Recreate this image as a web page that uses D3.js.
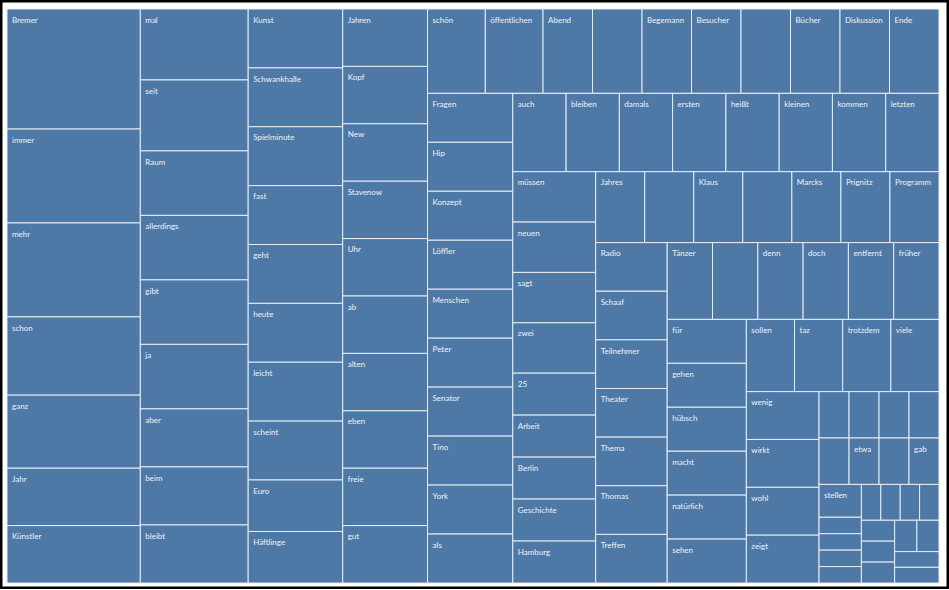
<!DOCTYPE html>
<html lang="de">
<head>
<meta charset="UTF-8">
<title>Wörter Treemap</title>
<style>
  body { margin: 0; background: #fff; }
  svg { display: block; }
  .cell rect { fill: #4e79a7; stroke: #e6ecf3; stroke-width: 1; }
  .cell text { fill: #eef2f7; font-family: Lato, "Open Sans", sans-serif; font-size: 8px; }
</style>
</head>
<body>
<svg id="chart" width="949" height="590"></svg>
<script src="https://cdn.jsdelivr.net/npm/d3@7"></script>
<script>
// word counts, one array per frequency
var levels = [23, 18, 15, 14, 11, 10, 9, 8, 7, 6, 5, 2, 1];

var words23 = ["Bremer"];
var words18 = ["immer", "mehr"];
var words15 = ["schon"];
var words14 = ["ganz"];
var words11 = ["Jahr", "Künstler", "mal", "seit"];
var words10 = ["Raum", "allerdings", "gibt", "ja"];
var words9 = ["aber", "beim", "bleibt"];
var words8 = ["Kunst", "Schwankhalle", "Spielminute", "fast", "geht", "heute", "leicht", "scheint"];
var words7 = ["Euro", "Häftlinge", "Jahren", "Kopf", "New", "Stavenow", "Uhr", "ab", "alten",
              "eben", "freie", "gut", "schön", "öffentlichen"];
var words6 = ["Abend", "Ausstellungsraum", "Begemann", "Besucher", "Bremerhavener", "Bücher",
              "Diskussion", "Ende", "Fragen", "Hip", "Konzept", "Löffler", "Menschen", "Peter",
              "Senator", "Tino", "York", "als", "auch", "bleiben", "damals", "ersten", "heißt",
              "kleinen", "kommen", "letzten", "müssen", "neuen", "sagt", "zwei"];
var words5 = ["25", "Arbeit", "Berlin", "Geschichte", "Hamburg", "Jahres", "Kammerphilharmonie",
              "Klaus", "Kulturhauptstadt", "Marcks", "Prignitz", "Programm", "Radio", "Schaaf",
              "Teilnehmer", "Theater", "Thema", "Thomas", "Treffen", "Tänzer", "beispielsweise",
              "denn", "doch", "entfernt", "früher", "für", "gehen", "hübsch", "macht", "natürlich",
              "sehen", "sollen", "taz", "trotzdem", "viele", "wenig", "wirkt", "wohl", "zeigt"];
var words2 = ["Bühnenbild", "Festivals", "Projekte", "Publikum", "eigentlich", "etwa", "funktioniert",
              "gab", "stellen"];
var words1 = ["aktuellen", "bekommen", "darüber", "deshalb", "einfach", "erklärt", "gestern",
              "inzwischen", "jedenfalls", "nämlich", "offenbar", "schließlich", "verschiedenen",
              "wahrscheinlich", "zusammen"];

var groups = [words23, words18, words15, words14, words11, words10, words9, words8,
              words7, words6, words5, words2, words1];

var leaves = [];
groups.forEach(function(g, i) {
  g.forEach(function(w) { leaves.push({name: w, value: levels[i]}); });
});

var margin = {left: 7, top: 9},
    width = 932,
    height = 574;

var svg = d3.select("#chart");

// frame
svg.append("rect")
  .attr("x", 1.25).attr("y", 1.25)
  .attr("width", 946.5).attr("height", 586.5)
  .attr("fill", "none")
  .attr("stroke", "#000")
  .attr("stroke-width", 2.5);

var root = d3.hierarchy({name: "root", children: leaves})
  .sum(function(d) { return d.children ? 0 : d.value; })
  .sort(function(a, b) { return b.value - a.value; });

d3.treemap()
  .tile(d3.treemapSquarify.ratio(1.622))
  .size([width, height])(root);

var g = svg.append("g")
  .attr("transform", "translate(" + margin.left + "," + margin.top + ")");

var cell = g.selectAll("g.cell")
  .data(root.leaves())
  .enter().append("g")
    .attr("class", "cell")
    .attr("transform", function(d) { return "translate(" + d.x0 + "," + d.y0 + ")"; });

cell.append("rect")
  .attr("width", function(d) { return d.x1 - d.x0; })
  .attr("height", function(d) { return d.y1 - d.y0; });

cell.append("text")
  .attr("x", 5)
  .attr("y", 13.7)
  .text(function(d) { return d.data.name; })
  .each(function(d) {
    // hide labels that don't fit, like Tableau does
    var w = d.x1 - d.x0, h = d.y1 - d.y0;
    if (this.getComputedTextLength() > w - 8 || h < 26) d3.select(this).remove();
  });
</script>
</body>
</html>
